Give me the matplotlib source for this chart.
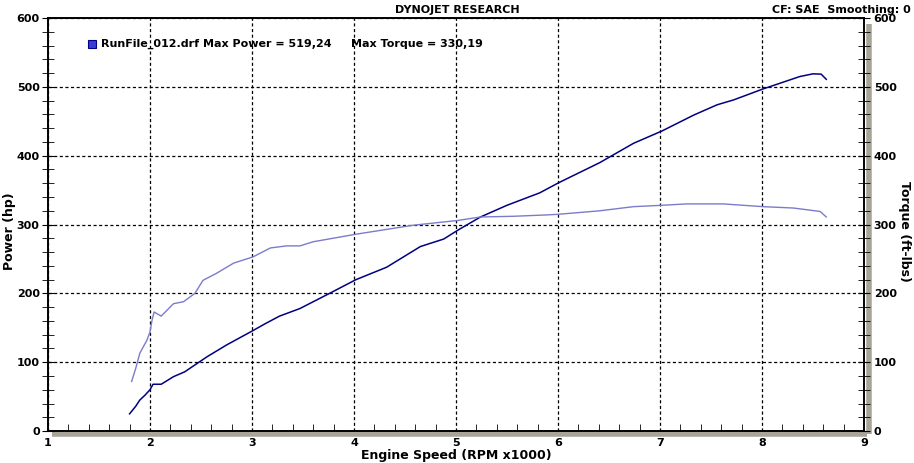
import matplotlib
matplotlib.use("Agg")
import matplotlib.pyplot as plt
from matplotlib.patches import Rectangle
from matplotlib.ticker import MultipleLocator

# values
rpm_power = [1.80, 1.86, 1.90, 1.95, 2.00, 2.03, 2.11, 2.23, 2.34, 2.49, 2.56, 2.75,
             3.01, 3.13, 3.27, 3.47, 3.76, 4.02, 4.32, 4.65, 4.88, 5.02, 5.24, 5.50,
             5.82, 6.01, 6.41, 6.74, 7.02, 7.33, 7.56, 7.72, 8.01, 8.37, 8.50, 8.58, 8.63]
power = [25, 36, 45, 52, 60, 68, 68, 79, 86, 101, 108, 125,
         146, 156, 167, 178, 200, 220, 238, 268, 279, 292, 311, 328,
         346, 361, 390, 418, 436, 459, 474, 481, 497, 515, 519, 518.5, 511]

rpm_torque = [1.82, 1.86, 1.90, 1.97, 2.00, 2.02, 2.04, 2.11, 2.23, 2.33, 2.44, 2.52,
              2.65, 2.82, 3.01, 3.18, 3.34, 3.47, 3.60, 4.02, 4.58, 5.02, 5.24, 5.56,
              5.89, 6.01, 6.41, 6.74, 7.02, 7.26, 7.62, 8.01, 8.31, 8.57, 8.63]
torque = [72, 91, 113, 132, 144, 161, 173, 167, 185, 188, 200, 219,
          229, 244, 253, 266, 269, 269, 275, 286, 299, 306, 311, 312,
          314, 315, 320, 326, 328, 330, 330, 326, 324, 319, 311]

x_ticks = [1, 2, 3, 4, 5, 6, 7, 8, 9]
y_ticks = [0, 100, 200, 300, 400, 500, 600]

plt.rcParams['font.family'] = ['DejaVu Sans']
plt.rcParams['font.weight'] = 'bold'
fs = 8

fig = plt.figure(figsize=(9.14, 4.63), dpi=100)
ax = fig.add_axes([0.0525, 0.069, 0.8928, 0.892])
ax2 = ax.twinx()

ax.set_xlim(1, 9)
ax.set_ylim(0, 600)
ax2.set_ylim(0, 600)
ax.set_xticks(x_ticks)
ax.set_yticks(y_ticks)
ax2.set_yticks(y_ticks)
ax.xaxis.set_minor_locator(MultipleLocator(0.2))
ax.yaxis.set_minor_locator(MultipleLocator(20))
ax2.yaxis.set_minor_locator(MultipleLocator(20))

ax.grid(True, which='major', color='black', linestyle=(0, (2.5, 2)), linewidth=0.9)

ax.plot(rpm_power, power, color='#000080', linewidth=1.1, zorder=3)
ax2.plot(rpm_torque, torque, color='#7b7bcc', linewidth=1.0, zorder=3)

for a in (ax, ax2):
    for s in a.spines.values():
        s.set_color('black')
        s.set_linewidth(1.2)
ax.tick_params(axis='x', which='both', direction='in', labelsize=fs, pad=5)
ax.tick_params(axis='x', which='major', length=0)
ax.tick_params(axis='x', which='minor', length=5)
ax.tick_params(axis='y', which='both', direction='inout', length=8, labelsize=fs, pad=2)
ax2.tick_params(axis='y', which='both', direction='inout', length=8, labelsize=fs, pad=3)

for lbl in ax.get_xticklabels() + ax.get_yticklabels() + ax2.get_yticklabels():
    lbl.set_fontweight('bold')

# grey shadow along bottom and right edge
ax.plot([0.005, 1.004], [-0.008, -0.008], transform=ax.transAxes, color='#a8a498',
        linewidth=4, clip_on=False, solid_capstyle='butt', zorder=0)
ax.plot([1.006, 1.006], [-0.008, 0.985], transform=ax.transAxes, color='#a8a498',
        linewidth=4, clip_on=False, solid_capstyle='butt', zorder=0)

ax.set_xlabel('Engine Speed (RPM x1000)', fontsize=fs + 1, fontweight='bold', labelpad=1)
fig.text(10 / 914, 0.5, 'Power (hp)', rotation=90, ha='center', va='center',
         fontsize=fs + 1, fontweight='bold')
fig.text(904 / 914, 0.5, 'Torque (ft-lbs)', rotation=-90, ha='center', va='center',
         fontsize=fs + 1, fontweight='bold')

fig.text(0.5, 0.979, 'DYNOJET RESEARCH', ha='center', va='center', fontsize=fs, fontweight='bold')
fig.text(0.996, 0.979, 'CF: SAE  Smoothing: 0', ha='right', va='center', fontsize=fs, fontweight='bold')

# legend entry
fig.patches.append(Rectangle((88 / 914, 1 - 48 / 463), 8 / 914, 8 / 463, transform=fig.transFigure,
                             facecolor='#3a3ad8', edgecolor='#000080', linewidth=0.8))
fig.text(101 / 914, 1 - 44 / 463,
         'RunFile_012.drf Max Power = 519,24     Max Torque = 330,19',
         ha='left', va='center', fontsize=fs, fontweight='bold')

fig.savefig('out.png', dpi=100)
